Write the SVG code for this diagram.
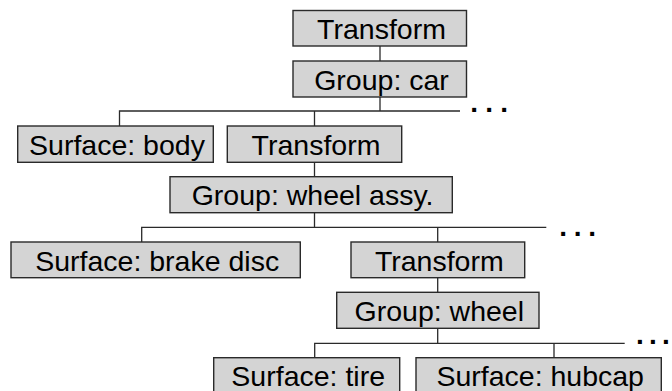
<svg xmlns="http://www.w3.org/2000/svg" width="672" height="391" viewBox="0 0 672 391">
<style>
.box{fill:#d4d4d4;stroke:#2a2a2a;stroke-width:1.4}
.lbl{font-family:"Liberation Sans",Arial,sans-serif;font-size:28.5px;fill:#000;text-anchor:middle}
.dots{font-family:"Liberation Sans",Arial,sans-serif;font-size:28px;font-weight:bold;fill:#000}
.con{fill:none;stroke:#2a2a2a;stroke-width:1.3}
</style>
<rect width="672" height="391" fill="#fff"/>
<g id="connectors">
<path class="con" d="M380 46V61"/>
<path class="con" d="M380 97V111M119.5 126V111H460M314.5 111V126"/>
<path class="con" d="M314.5 162.3V176.7"/>
<path class="con" d="M314.5 212.7V227.3M141.7 242V227.3H546.3M437.7 227.3V242"/>
<path class="con" d="M437.7 277.7V292.3"/>
<path class="con" d="M437.7 328.3V343.3M314.7 357.7V343.3H624.7M554 343.3V357.7"/>
<text class="dots" x="470.3 485.3 500.3" y="112">...</text>
<text class="dots" x="559.3 573.8 588.3" y="236">...</text>
<text class="dots" x="636 649 662" y="344">...</text>
</g>
<g id="transform1"><rect class="box" x="293" y="10.5" width="173.5" height="35.5"/><text class="lbl" x="381.5" y="39.3">Transform</text></g>
<g id="group-car"><rect class="box" x="293" y="61" width="173.5" height="36"/><text class="lbl" x="381.5" y="89.5">Group: car</text></g>
<g id="surface-body"><rect class="box" x="17.7" y="126" width="195.6" height="36.3"/><text class="lbl" x="117" y="154.5">Surface: body</text></g>
<g id="transform2"><rect class="box" x="227.3" y="126" width="174.4" height="36.3"/><text class="lbl" x="316" y="154.5">Transform</text></g>
<g id="group-wheel-assy"><rect class="box" x="170" y="176.7" width="282.3" height="36"/><text class="lbl" x="312.6" y="205.2">Group: wheel assy.</text></g>
<g id="surface-brake-disc"><rect class="box" x="11" y="242" width="289.3" height="35.7"/><text class="lbl" x="157.2" y="270.5">Surface: brake disc</text></g>
<g id="transform3"><rect class="box" x="351" y="242" width="173.7" height="35.7"/><text class="lbl" x="439.3" y="270.5">Transform</text></g>
<g id="group-wheel"><rect class="box" x="336.7" y="292.3" width="202.3" height="36"/><text class="lbl" x="439.3" y="320.8">Group: wheel</text></g>
<g id="surface-tire"><rect class="box" x="213.7" y="357.7" width="186" height="36"/><text class="lbl" x="308.2" y="386.2">Surface: tire</text></g>
<g id="surface-hubcap"><rect class="box" x="416" y="357.7" width="245.3" height="36"/><text class="lbl" x="540.2" y="386.2">Surface: hubcap</text></g>
</svg>
